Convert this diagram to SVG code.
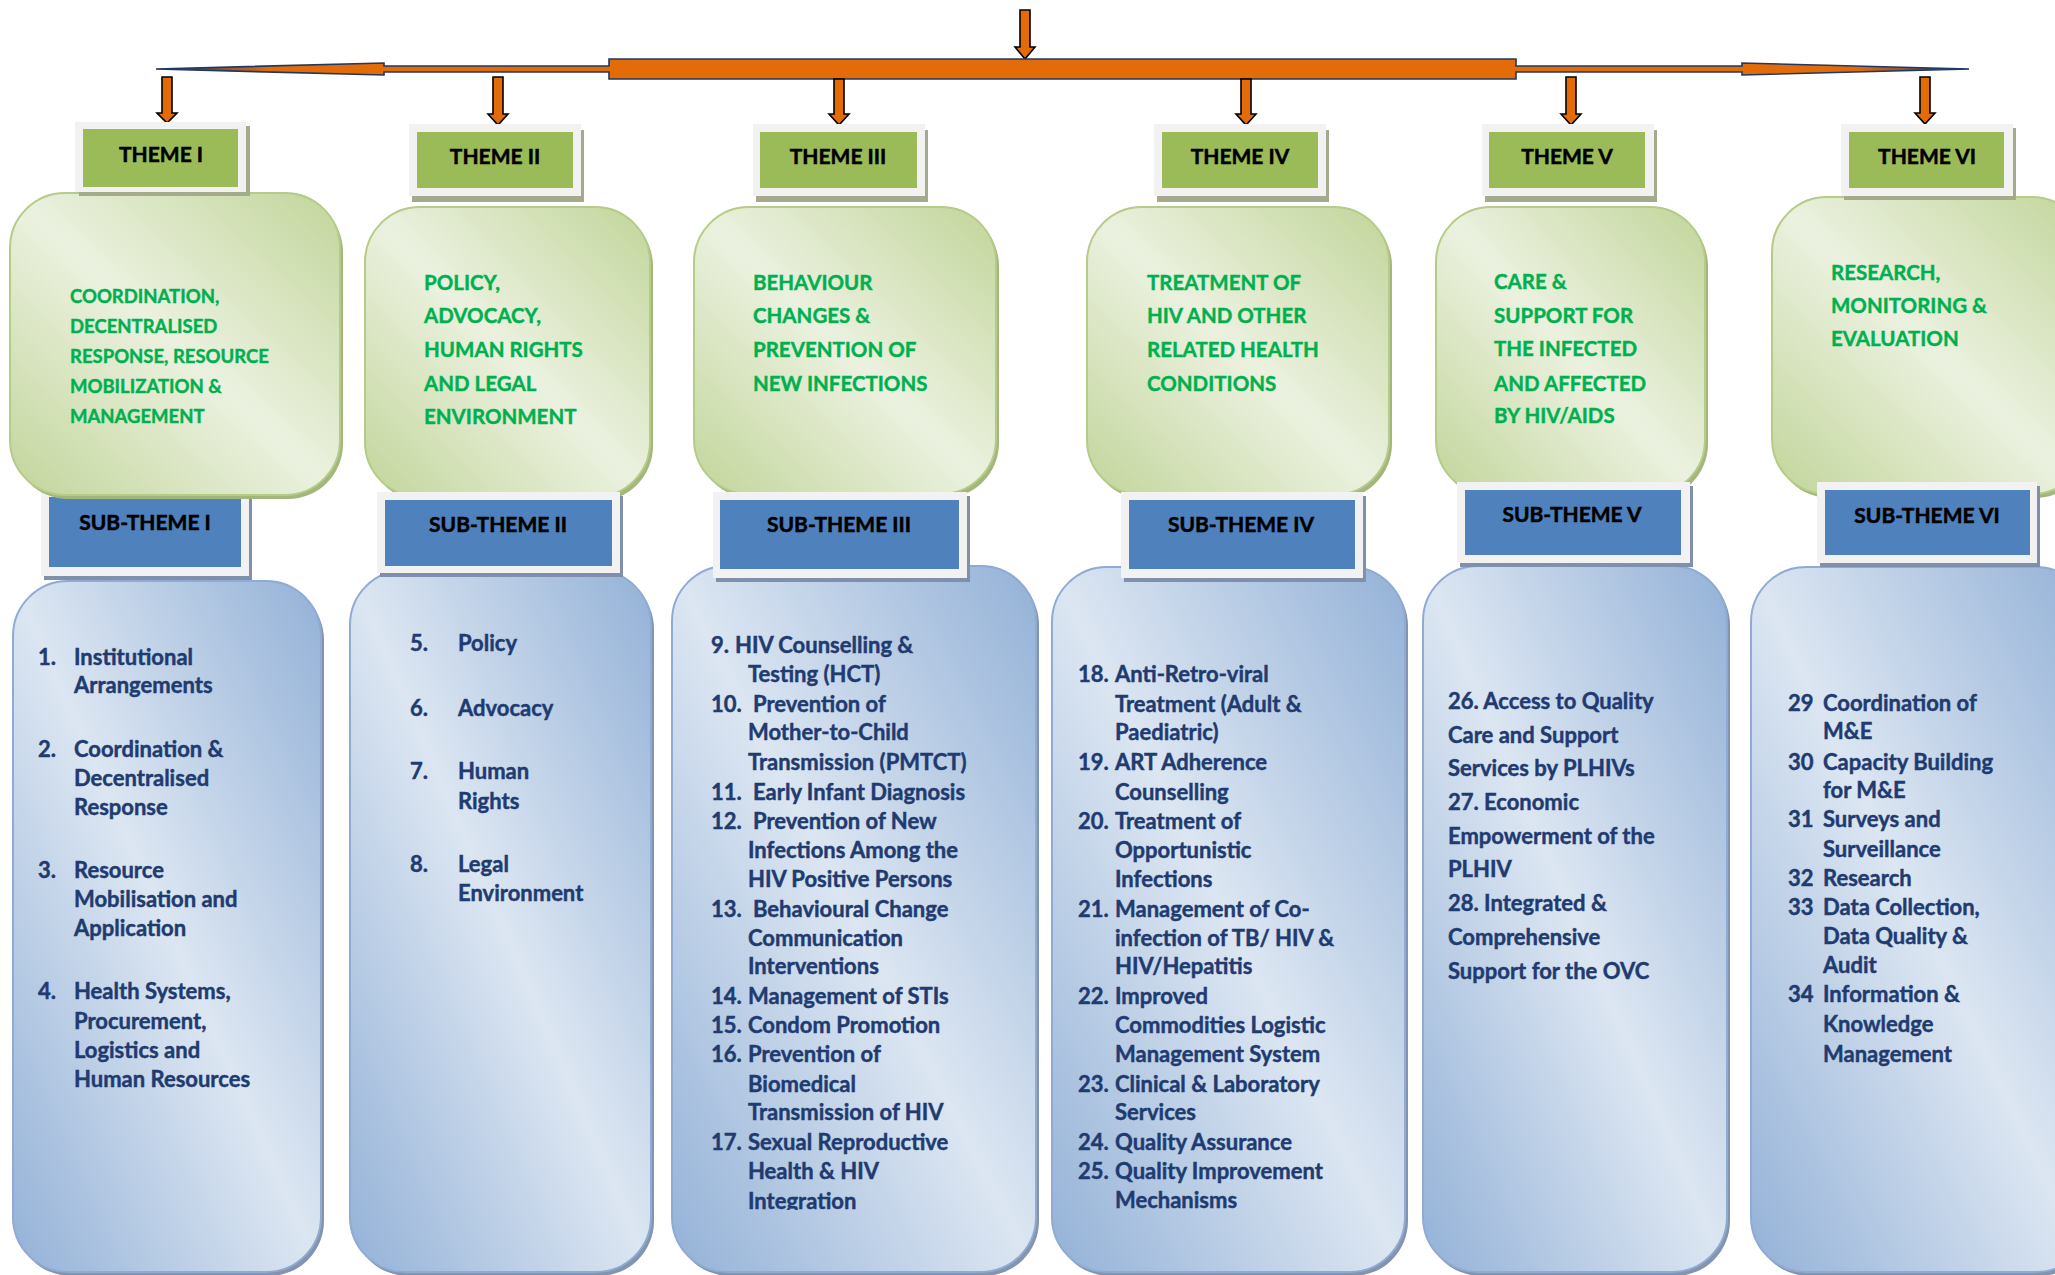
<svg xmlns="http://www.w3.org/2000/svg" width="2055" height="1275" viewBox="0 0 2055 1275">
  <defs>
    <style>
      .lst { font-family: Lato, "Liberation Sans", sans-serif; font-weight: 700; font-size: 22px; fill: #1F3B70; stroke: #1F3B70; stroke-width: 0.45px; }
      .dsc { font-family: Lato, "Liberation Sans", sans-serif; font-weight: 700; font-size: 20.5px; fill: #00B050; stroke: #00B050; stroke-width: 0.4px; }
      .dsc.sm { font-size: 18.5px; }
      .lbl { font-family: Lato, "Liberation Sans", sans-serif; font-weight: 700; font-size: 21px; fill: #000; stroke: #000; stroke-width: 0.5px; text-anchor: middle; }
      .frame { fill: #F2F2F2; }
      .thm { fill: #9BBB59; }
      .sub { fill: #4F81BD; }
      .shT { fill: #A3AB8C; }
      .shS { fill: #8090AC; }
      .desc { fill: url(#gGreen); stroke: #B5CB88; stroke-width: 2; }
      .descSh { fill: #A5B67D; }
      .list { fill: url(#gBlue); stroke: #8FAAD3; stroke-width: 2; }
      .listSh { fill: #8494AE; }
      .arw { fill: #E36C09; stroke: #000; stroke-width: 1.6; stroke-linejoin: miter; }
    </style>
    <linearGradient id="gGreen" x1="1" y1="0" x2="0" y2="1">
      <stop offset="0" stop-color="#C2D59A"/>
      <stop offset="0.5" stop-color="#EBF1DF"/>
      <stop offset="1" stop-color="#C2D59A"/>
    </linearGradient>
    <linearGradient id="gBlue" x1="1" y1="0" x2="0" y2="1">
      <stop offset="0" stop-color="#93B1D7"/>
      <stop offset="0.5" stop-color="#DCE6F2"/>
      <stop offset="1" stop-color="#93B1D7"/>
    </linearGradient>
    <linearGradient id="tipL" x1="0" y1="0" x2="1" y2="0">
      <stop offset="0" stop-color="#1F3864" stop-opacity="1"/>
      <stop offset="0.5" stop-color="#1F3864" stop-opacity="0"/>
    </linearGradient>
    <linearGradient id="tipR" x1="1" y1="0" x2="0" y2="0">
      <stop offset="0" stop-color="#1F3864" stop-opacity="1"/>
      <stop offset="0.5" stop-color="#1F3864" stop-opacity="0"/>
    </linearGradient>
    <clipPath id="clipIII">
      <rect x="672" y="566" width="364" height="644"/>
    </clipPath>
  </defs>

  <rect width="2055" height="1275" fill="#FFFFFF"/>

  <!-- connectors: distribution bar and down arrows -->
  <g id="connectors">
    <path class="arw" d="M1020,10 H1030 V47 H1035 L1025,59 L1015,47 H1020 Z"/>
    <path d="M156,69 L384,63 L384,66 L609,66 L609,59 L1516,59 L1516,66 L1742,66 L1742,63 L1969,69 L1742,75 L1742,72 L1516,72 L1516,79 L609,79 L609,72 L384,72 L384,75 Z" fill="#E36C09" stroke="#1F3864" stroke-width="1.6" stroke-linejoin="miter"/>
    <polygon points="156,69 384,63 384,75" fill="url(#tipL)"/>
    <polygon points="1969,69 1742,63 1742,75" fill="url(#tipR)"/>
    <path class="arw" d="M162,77 H172 V113 H177 L167,123 L157,113 H162 Z"/>
    <path class="arw" d="M493,77 H503 V114 H508 L498,125 L488,114 H493 Z"/>
    <path class="arw" d="M834,79 H844 V114 H849 L839,125 L829,114 H834 Z"/>
    <path class="arw" d="M1241,79 H1251 V114 H1256 L1246,125 L1236,114 H1241 Z"/>
    <path class="arw" d="M1566,77 H1576 V114 H1581 L1571,125 L1561,114 H1566 Z"/>
    <path class="arw" d="M1920,77 H1930 V113 H1935 L1925,124 L1915,113 H1920 Z"/>
  </g>

  <!-- sub-theme lists -->
  <g id="list-1">
    <rect class="listSh" x="16" y="585" width="308" height="691" rx="55"/>
    <rect class="list" x="13" y="581" width="308" height="691" rx="55"/>
    <text class="lst">
      <tspan x="38" y="665">1.</tspan><tspan x="74" y="665">Institutional</tspan>
      <tspan x="74" y="693">Arrangements</tspan>
      <tspan x="38" y="757">2.</tspan><tspan x="74" y="757">Coordination &amp;</tspan>
      <tspan x="74" y="786">Decentralised</tspan>
      <tspan x="74" y="815">Response</tspan>
      <tspan x="38" y="878">3.</tspan><tspan x="74" y="878">Resource</tspan>
      <tspan x="74" y="907">Mobilisation and</tspan>
      <tspan x="74" y="936">Application</tspan>
      <tspan x="38" y="999">4.</tspan><tspan x="74" y="999">Health Systems,</tspan>
      <tspan x="74" y="1029">Procurement,</tspan>
      <tspan x="74" y="1058">Logistics and</tspan>
      <tspan x="74" y="1087">Human Resources</tspan>
    </text>
  </g>

  <g id="list-2">
    <rect class="listSh" x="353" y="574" width="301" height="702" rx="55"/>
    <rect class="list" x="350" y="570" width="301" height="702" rx="55"/>
    <text class="lst">
      <tspan x="410" y="651">5.</tspan><tspan x="458" y="651">Policy</tspan>
      <tspan x="410" y="716">6.</tspan><tspan x="458" y="716">Advocacy</tspan>
      <tspan x="410" y="779">7.</tspan><tspan x="458" y="779">Human</tspan>
      <tspan x="458" y="809">Rights</tspan>
      <tspan x="410" y="872">8.</tspan><tspan x="458" y="872">Legal</tspan>
      <tspan x="458" y="901">Environment</tspan>
    </text>
  </g>

  <g id="list-3">
    <rect class="listSh" x="675" y="570" width="364" height="706" rx="55"/>
    <rect class="list" x="672" y="566" width="364" height="706" rx="55"/>
    <text class="lst" clip-path="url(#clipIII)">
      <tspan x="711" y="653">9.</tspan><tspan x="735" y="653">HIV Counselling &amp;</tspan>
      <tspan x="748" y="682">Testing (HCT)</tspan>
      <tspan x="711" y="712">10.</tspan><tspan x="753" y="712">Prevention of</tspan>
      <tspan x="748" y="740">Mother-to-Child</tspan>
      <tspan x="748" y="770">Transmission (PMTCT)</tspan>
      <tspan x="711" y="800">11.</tspan><tspan x="753" y="800">Early Infant Diagnosis</tspan>
      <tspan x="711" y="829">12.</tspan><tspan x="753" y="829">Prevention of New</tspan>
      <tspan x="748" y="858">Infections Among the</tspan>
      <tspan x="748" y="887">HIV Positive Persons</tspan>
      <tspan x="711" y="917">13.</tspan><tspan x="753" y="917">Behavioural Change</tspan>
      <tspan x="748" y="946">Communication</tspan>
      <tspan x="748" y="974">Interventions</tspan>
      <tspan x="711" y="1004">14.</tspan><tspan x="748" y="1004">Management of STIs</tspan>
      <tspan x="711" y="1033">15.</tspan><tspan x="748" y="1033">Condom Promotion</tspan>
      <tspan x="711" y="1062">16.</tspan><tspan x="748" y="1062">Prevention of</tspan>
      <tspan x="748" y="1092">Biomedical</tspan>
      <tspan x="748" y="1120">Transmission of HIV</tspan>
      <tspan x="711" y="1150">17.</tspan><tspan x="748" y="1150">Sexual Reproductive</tspan>
      <tspan x="748" y="1179">Health &amp; HIV</tspan>
      <tspan x="748" y="1209">Integration</tspan>
    </text>
  </g>

  <g id="list-4">
    <rect class="listSh" x="1055" y="571" width="353" height="705" rx="55"/>
    <rect class="list" x="1052" y="567" width="353" height="705" rx="55"/>
    <text class="lst">
      <tspan x="1078" y="682">18.</tspan><tspan x="1115" y="682">Anti-Retro-viral</tspan>
      <tspan x="1115" y="712">Treatment (Adult &amp;</tspan>
      <tspan x="1115" y="740">Paediatric)</tspan>
      <tspan x="1078" y="770">19.</tspan><tspan x="1115" y="770">ART Adherence</tspan>
      <tspan x="1115" y="800">Counselling</tspan>
      <tspan x="1078" y="829">20.</tspan><tspan x="1115" y="829">Treatment of</tspan>
      <tspan x="1115" y="858">Opportunistic</tspan>
      <tspan x="1115" y="887">Infections</tspan>
      <tspan x="1078" y="917">21.</tspan><tspan x="1115" y="917">Management of Co-</tspan>
      <tspan x="1115" y="946">infection of TB/ HIV &amp;</tspan>
      <tspan x="1115" y="974">HIV/Hepatitis</tspan>
      <tspan x="1078" y="1004">22.</tspan><tspan x="1115" y="1004">Improved</tspan>
      <tspan x="1115" y="1033">Commodities Logistic</tspan>
      <tspan x="1115" y="1062">Management System</tspan>
      <tspan x="1078" y="1092">23.</tspan><tspan x="1115" y="1092">Clinical &amp; Laboratory</tspan>
      <tspan x="1115" y="1120">Services</tspan>
      <tspan x="1078" y="1150">24.</tspan><tspan x="1115" y="1150">Quality Assurance</tspan>
      <tspan x="1078" y="1179">25.</tspan><tspan x="1115" y="1179">Quality Improvement</tspan>
      <tspan x="1115" y="1208">Mechanisms</tspan>
    </text>
  </g>

  <g id="list-5">
    <rect class="listSh" x="1426" y="570" width="304" height="706" rx="55"/>
    <rect class="list" x="1423" y="566" width="304" height="706" rx="55"/>
    <text class="lst">
      <tspan x="1448" y="709">26. Access to Quality</tspan>
      <tspan x="1448" y="743">Care and Support</tspan>
      <tspan x="1448" y="776">Services by PLHIVs</tspan>
      <tspan x="1448" y="810">27. Economic</tspan>
      <tspan x="1448" y="844">Empowerment of the</tspan>
      <tspan x="1448" y="877">PLHIV</tspan>
      <tspan x="1448" y="911">28. Integrated &amp;</tspan>
      <tspan x="1448" y="945">Comprehensive</tspan>
      <tspan x="1448" y="979">Support for the OVC</tspan>
    </text>
  </g>

  <g id="list-6">
    <rect class="listSh" x="1754" y="571" width="340" height="705" rx="55"/>
    <rect class="list" x="1751" y="567" width="340" height="705" rx="55"/>
    <text class="lst">
      <tspan x="1788" y="711">29</tspan><tspan x="1823" y="711">Coordination of</tspan>
      <tspan x="1823" y="739">M&amp;E</tspan>
      <tspan x="1788" y="770">30</tspan><tspan x="1823" y="770">Capacity Building</tspan>
      <tspan x="1823" y="798">for M&amp;E</tspan>
      <tspan x="1788" y="827">31</tspan><tspan x="1823" y="827">Surveys and</tspan>
      <tspan x="1823" y="857">Surveillance</tspan>
      <tspan x="1788" y="886">32</tspan><tspan x="1823" y="886">Research</tspan>
      <tspan x="1788" y="915">33</tspan><tspan x="1823" y="915">Data Collection,</tspan>
      <tspan x="1823" y="944">Data Quality &amp;</tspan>
      <tspan x="1823" y="973">Audit</tspan>
      <tspan x="1788" y="1002">34</tspan><tspan x="1823" y="1002">Information &amp;</tspan>
      <tspan x="1823" y="1032">Knowledge</tspan>
      <tspan x="1823" y="1062">Management</tspan>
    </text>
  </g>

  <!-- sub-theme I sits beneath its theme panel -->
  <g id="subtheme-1">
    <rect class="shS" x="44" y="494" width="208" height="86"/>
    <rect class="frame" x="41" y="490" width="208" height="86"/>
    <rect class="sub" x="49" y="497" width="192" height="70"/>
    <text class="lbl" x="145" y="530">SUB-THEME I</text>
  </g>

  <!-- theme description panels -->
  <g id="theme-desc-1">
    <rect class="descSh" x="13" y="197" width="330" height="302" rx="55"/>
    <rect class="desc" x="10" y="193" width="330" height="302" rx="55"/>
    <text class="dsc sm">
      <tspan x="70" y="303">COORDINATION,</tspan>
      <tspan x="70" y="333">DECENTRALISED</tspan>
      <tspan x="70" y="363">RESPONSE, RESOURCE</tspan>
      <tspan x="70" y="393">MOBILIZATION &amp;</tspan>
      <tspan x="70" y="423">MANAGEMENT</tspan>
    </text>
  </g>

  <g id="theme-desc-2">
    <rect class="descSh" x="368" y="211" width="285" height="290" rx="55"/>
    <rect class="desc" x="365" y="207" width="285" height="290" rx="55"/>
    <text class="dsc">
      <tspan x="424" y="290">POLICY,</tspan>
      <tspan x="424" y="323">ADVOCACY,</tspan>
      <tspan x="424" y="357">HUMAN RIGHTS</tspan>
      <tspan x="424" y="391">AND LEGAL</tspan>
      <tspan x="424" y="424">ENVIRONMENT</tspan>
    </text>
  </g>

  <g id="theme-desc-3">
    <rect class="descSh" x="697" y="211" width="302" height="287" rx="55"/>
    <rect class="desc" x="694" y="207" width="302" height="287" rx="55"/>
    <text class="dsc">
      <tspan x="753" y="290">BEHAVIOUR</tspan>
      <tspan x="753" y="323">CHANGES &amp;</tspan>
      <tspan x="753" y="357">PREVENTION OF</tspan>
      <tspan x="753" y="391">NEW INFECTIONS</tspan>
    </text>
  </g>

  <g id="theme-desc-4">
    <rect class="descSh" x="1090" y="211" width="302" height="288" rx="55"/>
    <rect class="desc" x="1087" y="207" width="302" height="288" rx="55"/>
    <text class="dsc">
      <tspan x="1147" y="290">TREATMENT OF</tspan>
      <tspan x="1147" y="323">HIV AND OTHER</tspan>
      <tspan x="1147" y="357">RELATED HEALTH</tspan>
      <tspan x="1147" y="391">CONDITIONS</tspan>
    </text>
  </g>

  <g id="theme-desc-5">
    <rect class="descSh" x="1439" y="211" width="269" height="288" rx="55"/>
    <rect class="desc" x="1436" y="207" width="269" height="288" rx="55"/>
    <text class="dsc">
      <tspan x="1494" y="289">CARE &amp;</tspan>
      <tspan x="1494" y="323">SUPPORT FOR</tspan>
      <tspan x="1494" y="356">THE INFECTED</tspan>
      <tspan x="1494" y="391">AND AFFECTED</tspan>
      <tspan x="1494" y="423">BY HIV/AIDS</tspan>
    </text>
  </g>

  <g id="theme-desc-6">
    <rect class="descSh" x="1775" y="201" width="315" height="297" rx="55"/>
    <rect class="desc" x="1772" y="197" width="315" height="297" rx="55"/>
    <text class="dsc">
      <tspan x="1831" y="280">RESEARCH,</tspan>
      <tspan x="1831" y="313">MONITORING &amp;</tspan>
      <tspan x="1831" y="346">EVALUATION</tspan>
    </text>
  </g>

  <!-- sub-theme headers -->
  <g id="subtheme-2">
    <rect class="shS" x="380" y="496" width="243" height="81"/>
    <rect class="frame" x="377" y="492" width="243" height="81"/>
    <rect class="sub" x="385" y="500" width="227" height="66"/>
    <text class="lbl" x="498" y="532">SUB-THEME II</text>
  </g>

  <g id="subtheme-3">
    <rect class="shS" x="716" y="496" width="254" height="86"/>
    <rect class="frame" x="713" y="492" width="254" height="86"/>
    <rect class="sub" x="720" y="500" width="239" height="69"/>
    <text class="lbl" x="839" y="532">SUB-THEME III</text>
  </g>

  <g id="subtheme-4">
    <rect class="shS" x="1124" y="496" width="242" height="86"/>
    <rect class="frame" x="1121" y="492" width="242" height="86"/>
    <rect class="sub" x="1129" y="500" width="226" height="69"/>
    <text class="lbl" x="1241" y="532">SUB-THEME IV</text>
  </g>

  <g id="subtheme-5">
    <rect class="shS" x="1460" y="486" width="233" height="81"/>
    <rect class="frame" x="1457" y="482" width="233" height="81"/>
    <rect class="sub" x="1465" y="490" width="216" height="65"/>
    <text class="lbl" x="1572" y="522">SUB-THEME V</text>
  </g>

  <g id="subtheme-6">
    <rect class="shS" x="1820" y="486" width="220" height="81"/>
    <rect class="frame" x="1817" y="482" width="220" height="81"/>
    <rect class="sub" x="1825" y="490" width="205" height="65"/>
    <text class="lbl" x="1927" y="523">SUB-THEME VI</text>
  </g>

  <!-- theme headers -->
  <g id="theme-1">
    <rect class="shT" x="79" y="126" width="171" height="70"/>
    <rect class="frame" x="75" y="122" width="171" height="70"/>
    <rect class="thm" x="83" y="129" width="155" height="58"/>
    <text class="lbl" x="161" y="162">THEME I</text>
  </g>

  <g id="theme-2">
    <rect class="shT" x="412" y="130" width="172" height="72"/>
    <rect class="frame" x="409" y="124" width="172" height="72"/>
    <rect class="thm" x="417" y="132" width="156" height="56"/>
    <text class="lbl" x="495" y="164">THEME II</text>
  </g>

  <g id="theme-3">
    <rect class="shT" x="756" y="130" width="172" height="72"/>
    <rect class="frame" x="753" y="124" width="172" height="72"/>
    <rect class="thm" x="760" y="132" width="157" height="56"/>
    <text class="lbl" x="838" y="164">THEME III</text>
  </g>

  <g id="theme-4">
    <rect class="shT" x="1157" y="130" width="172" height="72"/>
    <rect class="frame" x="1154" y="124" width="172" height="72"/>
    <rect class="thm" x="1162" y="132" width="156" height="56"/>
    <text class="lbl" x="1240" y="164">THEME IV</text>
  </g>

  <g id="theme-5">
    <rect class="shT" x="1485" y="130" width="172" height="72"/>
    <rect class="frame" x="1482" y="124" width="172" height="72"/>
    <rect class="thm" x="1489" y="132" width="156" height="56"/>
    <text class="lbl" x="1567" y="164">THEME V</text>
  </g>

  <g id="theme-6">
    <rect class="shT" x="1844" y="128" width="172" height="72"/>
    <rect class="frame" x="1841" y="124" width="172" height="72"/>
    <rect class="thm" x="1849" y="132" width="155" height="56"/>
    <text class="lbl" x="1927" y="164">THEME VI</text>
  </g>
</svg>
